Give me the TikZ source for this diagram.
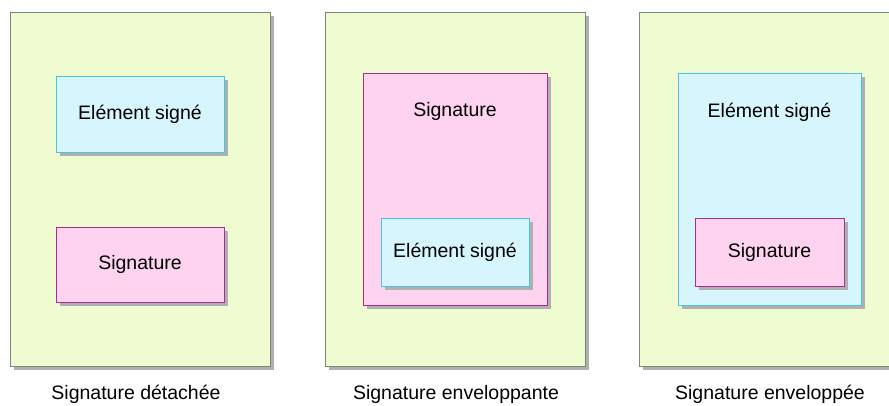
\documentclass[tikz,border=0pt]{standalone}
\usepackage{fontspec}
\setmainfont{Liberation Sans}
\usetikzlibrary{shadows, positioning}
\definecolor{pagegreen}{RGB}{239, 252, 210}
\definecolor{pageborder}{RGB}{125, 135, 120}
\definecolor{boxcyan}{RGB}{214, 245, 253}
\definecolor{edgecyan}{RGB}{76, 195, 214}
\definecolor{boxpink}{RGB}{253, 211, 239}
\definecolor{edgepink}{RGB}{163, 48, 140}
\definecolor{shadowgray}{RGB}{176, 176, 176}

\begin{document}
\begin{tikzpicture}[
    x=1pt, y=-1pt,
    boxbase/.style={draw, line width=1pt, inner sep=0pt,
        drop shadow={shadow xshift=4pt, shadow yshift=-4pt,
            fill=shadowgray, opacity=1}},
    page/.style={boxbase, fill=pagegreen, draw=pageborder,
        minimum width=260pt, minimum height=354pt},
    signed/.style={boxbase, fill=boxcyan, draw=edgecyan},
    sig/.style={boxbase, fill=boxpink, draw=edgepink},
    txt/.style={font=\fontsize{19.5}{22}\selectfont, inner sep=0pt}
]
    \useasboundingbox (0,0) rectangle (889,405);
    \clip (0,0) rectangle (889,405);

    % detached
    \node[page] (pageA) at (140,189) {};
    \node[signed, minimum width=168pt, minimum height=76pt, txt] (signedA)
        at (140,114) {Elément signé};
    \node[sig, minimum width=168pt, minimum height=75pt, txt] (sigA)
        at (140,264.5) {Signature};
    \node[txt] (capA) at (136,394) {Signature détachée};

    % enveloping
    \node[page] (pageB) at (455,189) {};
    \node[sig, minimum width=184pt, minimum height=232pt] (sigB) at (455,189) {};
    \node[txt, below=30pt of sigB.north] (sigBtext) {Signature};
    \node[signed, minimum width=148pt, minimum height=68pt, txt] (signedB)
        at (455,252) {Elément signé};
    \node[txt] (capB) at (456,394) {Signature enveloppante};

    % enveloped
    \node[page] (pageC) at (769,189) {};
    \node[signed, minimum width=183pt, minimum height=232pt] (signedC) at (769.5,189) {};
    \node[txt, below=30pt of signedC.north] (signedCtext) {Elément signé};
    \node[sig, minimum width=149pt, minimum height=68pt, txt] (sigC)
        at (769.5,252) {Signature};
    \node[txt] (capC) at (770,394) {Signature enveloppée};
\end{tikzpicture}
\end{document}
